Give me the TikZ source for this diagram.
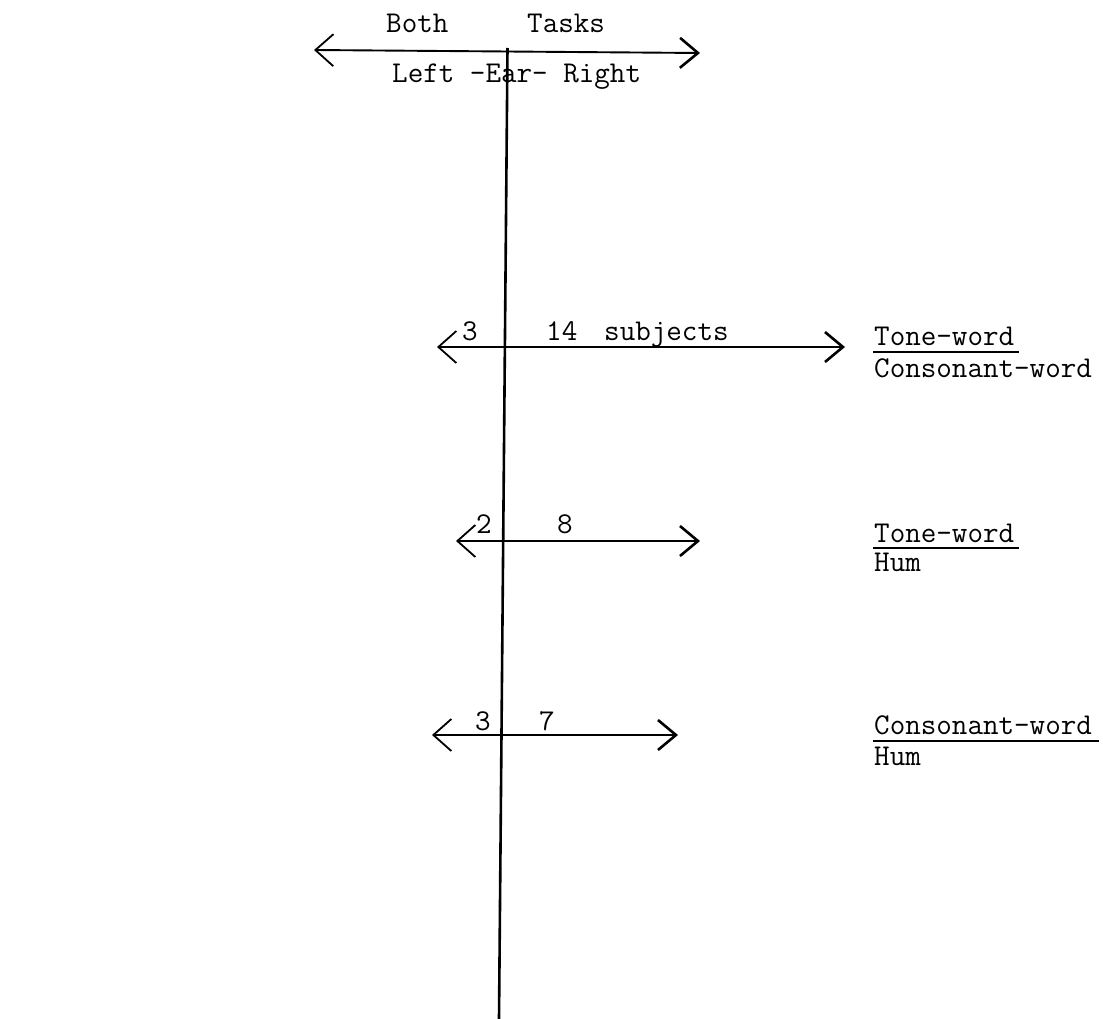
\documentclass[tikz,border=0pt]{standalone}
\usetikzlibrary{arrows.meta}
\begin{document}
\begin{tikzpicture}[x=1pt,y=-1pt,
  lbl/.style={anchor=base west,inner sep=0pt,font=\ttfamily\fontsize{30.2}{34}\selectfont},
  axisline/.style={line width=2.6pt},
  dbl/.style={line width=1.9pt,{Straight Barb[length=18pt,width=32pt,line width=1.8pt]}-{Straight Barb[length=18pt,width=30pt,line width=2.6pt]}},
  uline/.style={line width=1.7pt}]
\useasboundingbox (0,0) rectangle (1103,1019);
% top axis
\coordinate (tl) at (314,50);
\coordinate (tr) at (700,53);
\draw[dbl] (tl) -- (tr);
\node[lbl] (both) at (386,33) {Both};
\node[lbl] (tasks) at (527,33) {Tasks};
\node[lbl] (ear) at (392,83) {Left -Ear- Right};
% vertical line
\coordinate (vt) at (507.5,48);
\coordinate (vb) at (499,1019);
\draw[axisline] (vt) -- (vb);
% row 1
\coordinate (a1l) at (437,347);
\coordinate (a1r) at (845,347);
\draw[dbl] (a1l) -- (a1r);
\node[lbl] (n1a) at (462,340) {3};
\node[lbl] (n1b) at (546,340) {14};
\node[lbl] (n1c) at (604,340) {subjects};
\node[lbl] (r1a) at (874,345) {Tone-word};
\node[lbl] (r1b) at (874,377) {Consonant-word};
\coordinate (u1l) at (873,352);
\coordinate (u1r) at (1019,352);
\draw[uline] (u1l) -- (u1r);
% row 2
\coordinate (a2l) at (456,541);
\coordinate (a2r) at (700,541);
\draw[dbl] (a2l) -- (a2r);
\node[lbl] (n2a) at (476,533) {2};
\node[lbl] (n2b) at (557,533) {8};
\node[lbl] (r2a) at (874,542) {Tone-word};
\node[lbl] (r2b) at (874,571) {Hum};
\coordinate (u2l) at (873,548);
\coordinate (u2r) at (1019,548);
\draw[uline] (u2l) -- (u2r);
% row 3
\coordinate (a3l) at (432,735);
\coordinate (a3r) at (678,735);
\draw[dbl] (a3l) -- (a3r);
\node[lbl] (n3a) at (475,730) {3};
\node[lbl] (n3b) at (539,730) {7};
\node[lbl] (r3a) at (874,734) {Consonant-word};
\node[lbl] (r3b) at (874,765) {Hum};
\coordinate (u3l) at (873,741);
\coordinate (u3r) at (1099,741);
\draw[uline] (u3l) -- (u3r);
\end{tikzpicture}
\end{document}
